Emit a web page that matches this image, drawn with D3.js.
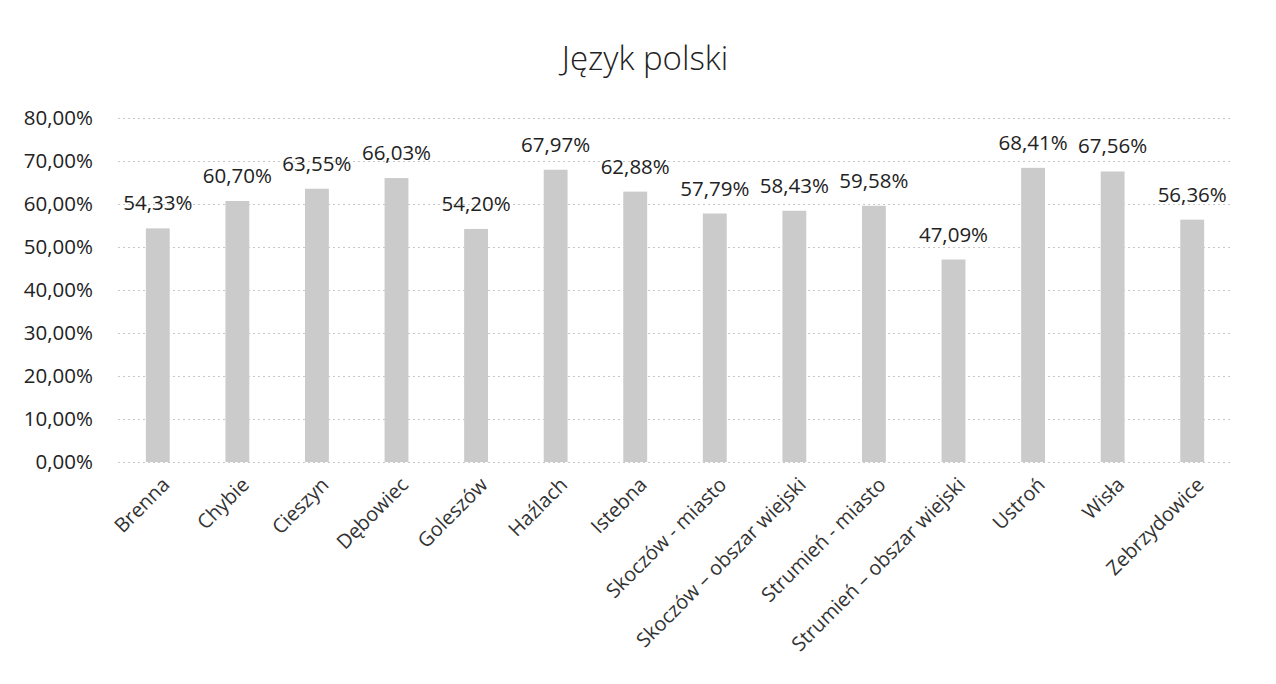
<html>
<head>
<meta charset="utf-8">
<style>
  body { margin: 0; background: #fff; font-family: "Open Sans", sans-serif; }
  .grid line { stroke: #c8c8c8; stroke-dasharray: 2,3; }
  .grid path { display: none; }
  .axisy path, .axisy line { display: none; }
  .axisx path, .axisx line { display: none; }
</style>
</head>
<body>
<script src="https://d3js.org/d3.v7.min.js"></script>
<script>
// data
var categories = ["Brenna", "Chybie", "Cieszyn", "Dębowiec", "Goleszów", "Haźlach", "Istebna",
  "Skoczów - miasto", "Skoczów – obszar wiejski", "Strumień - miasto", "Strumień – obszar wiejski",
  "Ustroń", "Wisła", "Zebrzydowice"];
var values = [54.33, 60.70, 63.55, 66.03, 54.20, 67.97, 62.88, 57.79, 58.43, 59.58, 47.09, 68.41, 67.56, 56.36];
var yTicks = [0, 10, 20, 30, 40, 50, 60, 70, 80];
var title = "Język polski";

var W = 1276, H = 684;
var margin = {top: 118, right: 44, bottom: 222, left: 118},
    width = W - margin.left - margin.right,
    height = H - margin.top - margin.bottom;

var fmt = function(v) { return v.toFixed(2).replace(".", ",") + "%"; };

var svg = d3.select("body").append("svg")
    .attr("width", W).attr("height", H);

svg.append("text")
    .attr("x", 645).attr("y", 70)
    .attr("text-anchor", "middle")
    .attr("font-size", 33)
    .attr("font-weight", 300)
    .style("fill", "#222")
    .text(title);

var g = svg.append("g")
    .attr("transform", "translate(" + margin.left + "," + margin.top + ")");

var x = d3.scaleBand()
    .domain(categories)
    .range([0, width])
    .paddingInner(0.7)
    .paddingOuter(0.35);

var y = d3.scaleLinear()
    .domain([0, 80])
    .range([height, 0]);

// gridlines
g.append("g")
    .attr("class", "grid")
    .call(d3.axisLeft(y).tickValues(yTicks).tickSize(-width).tickFormat(""));

// y axis labels
g.append("g")
    .attr("class", "axisy")
    .call(d3.axisLeft(y).tickValues(yTicks).tickSize(0).tickPadding(25).tickFormat(function(d) { return fmt(d); }))
    .selectAll("text")
    .attr("font-size", 20.5)
    .attr("font-family", "'Open Sans', sans-serif")
    .style("fill", "#222");

// bars
g.selectAll(".bar")
    .data(values)
    .enter().append("rect")
    .attr("class", "bar")
    .attr("x", function(d, i) { return x(categories[i]); })
    .attr("width", x.bandwidth())
    .attr("y", function(d) { return y(d); })
    .attr("height", function(d) { return height - y(d); })
    .style("fill", "#cbcbcb");

// value labels
g.selectAll(".lbl")
    .data(values)
    .enter().append("text")
    .attr("class", "lbl")
    .attr("x", function(d, i) { return x(categories[i]) + x.bandwidth() / 2; })
    .attr("y", function(d) { return y(d) - 18; })
    .attr("text-anchor", "middle")
    .attr("font-size", 20.5)
    .style("fill", "#222")
    .text(function(d) { return fmt(d); });

// x axis
g.append("g")
    .attr("class", "axisx")
    .attr("transform", "translate(0," + height + ")")
    .call(d3.axisBottom(x).tickSize(0).tickPadding(0))
    .selectAll("text")
    .attr("font-size", 20)
    .attr("font-family", "'Open Sans', sans-serif")
    .style("fill", "#333")
    .style("text-anchor", "end")
    .attr("dy", 0)
    .attr("transform", "translate(13,24) rotate(-45)");
</script>
</body>
</html>
